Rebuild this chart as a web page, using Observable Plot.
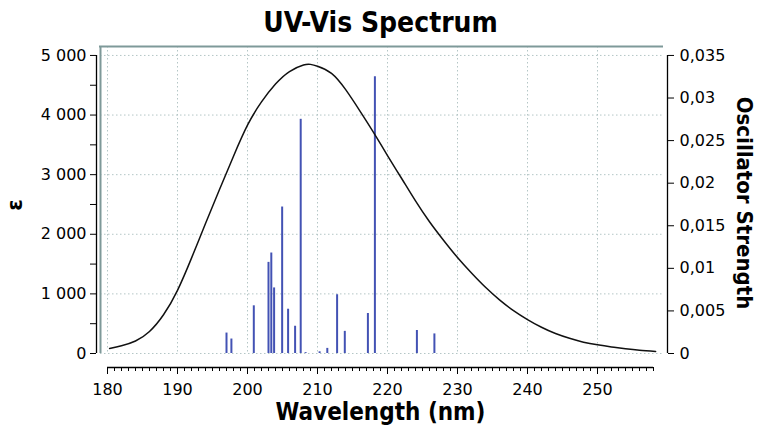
<!DOCTYPE html>
<html>
<head>
<meta charset="utf-8">
<script src="https://cdn.jsdelivr.net/npm/d3@7"></script>
<script src="https://cdn.jsdelivr.net/npm/@observablehq/plot@0.6"></script>
<style>
  html, body { margin: 0; padding: 0; background: #ffffff; }
  #chart svg { display: block; }
</style>
</head>
<body>
<div id="chart"></div>
<script>
// Broadened spectrum (epsilon)
const curveNm  = [180.3, 182, 184, 186, 188, 190, 192, 194, 196, 198, 200, 202, 204, 206, 208, 209, 210, 212, 214, 216, 218, 220, 222, 224, 226, 228, 230, 232, 234, 236, 238, 240, 242, 244, 246, 248, 250, 252, 254, 256, 258.3];
const curveEps = [85, 130, 210, 370, 650, 1060, 1600, 2180, 2750, 3310, 3830, 4220, 4520, 4730, 4840, 4850, 4820, 4700, 4430, 4080, 3710, 3320, 2940, 2560, 2210, 1900, 1610, 1350, 1110, 900, 720, 570, 440, 335, 255, 190, 145, 110, 80, 55, 35];

// Stick transitions: wavelength (nm) and oscillator strength
const stickNm = [197.0, 197.7, 200.9, 203.0, 203.4, 203.8, 204.95, 205.8, 206.8, 207.6, 208.3, 210.3, 211.4, 212.8, 213.9, 217.2, 218.2, 224.2, 226.7];
const stickF  = [0.0024, 0.0017, 0.0056, 0.0107, 0.0118, 0.0077, 0.0172, 0.0052, 0.0032, 0.0275, 0.0001, 0.0002, 0.0006, 0.0069, 0.0026, 0.0047, 0.0325, 0.0027, 0.0023];

// Axis ticks
const xTicks = [180, 190, 200, 210, 220, 230, 240, 250];
const xMinorTicks = d3.range(180, 259, 1);
const yTicks = [0, 1000, 2000, 3000, 4000, 5000];
const yMinorTicks = [500, 1500, 2500, 3500, 4500];
const fTicks = [0, 0.005, 0.01, 0.015, 0.02, 0.025, 0.03, 0.035];

// right axis maximum (0.035) aligns with left axis 5000
const K = 5000 / 0.035;

const curve = curveNm.map((x, i) => ({x, y: curveEps[i]}));
const sticks = stickNm.map((x, i) => ({x, f: stickF[i]}));

const fmtEps = d => d3.format(",")(d).replace(/,/g, " ");
const fmtF = v => String(Math.round(v / K * 10000) / 10000).replace(".", ",");

const frameGrey = "#7e9999";
const gridColor = "#b4c6c6";

const chart = Plot.plot({
  width: 757,
  height: 427,
  marginTop: 46,
  marginBottom: 74,
  marginLeft: 107,
  marginRight: 104,
  x: {domain: [180, 258]},
  y: {domain: [0, 5150]},
  style: {fontFamily: "DejaVu Sans", fontSize: "16px", color: "#000", background: "#fff"},
  marks: [
    // grid
    Plot.ruleX(xTicks, {stroke: gridColor, strokeDasharray: "1.5,2.5", strokeWidth: 1}),
    Plot.ruleY(yTicks, {stroke: gridColor, strokeDasharray: "1.5,2.5", strokeWidth: 1, insetLeft: -7, insetRight: -10}),
    // frame (top and left, grey)
    Plot.ruleY([5150], {stroke: frameGrey, strokeWidth: 2, insetLeft: -8, insetRight: -10}),
    Plot.ruleX([180], {dx: -7, stroke: frameGrey, strokeWidth: 2}),
    // left axis
    Plot.ruleX([180], {y1: 0, y2: 5000, dx: -11, stroke: "#000", strokeWidth: 1.3}),
    Plot.axisY(yTicks, {anchor: "left", dx: -11, tickSize: 6, tickPadding: 4, tickFormat: fmtEps, label: null, fontSize: 16}),
    Plot.axisY(yMinorTicks, {anchor: "left", dx: -11, tickSize: 6, tickFormat: () => "", label: null}),
    // right axis
    Plot.ruleX([258], {y1: 0, y2: 5000, dx: 14, stroke: "#000", strokeWidth: 1.3}),
    Plot.axisY(fTicks.map(f => f * K), {anchor: "right", dx: 14, tickSize: 6, tickPadding: 6, tickFormat: fmtF, label: null, fontSize: 16}),
    // bottom axis
    Plot.ruleY([0], {x1: 180, x2: 258, dy: 14, stroke: "#000", strokeWidth: 1.3}),
    Plot.axisX(xMinorTicks, {anchor: "bottom", dy: 14, tickSize: 4, tickFormat: () => "", label: null}),
    Plot.axisX(xTicks, {anchor: "bottom", dy: 14, tickSize: 7, tickPadding: 9, tickFormat: d => String(d), label: null, fontSize: 16}),
    // sticks
    Plot.ruleX(sticks, {x: "x", y1: 0, y2: d => d.f * K, stroke: "#4352b4", strokeWidth: 2}),
    // spectrum
    Plot.line(curve, {x: "x", y: "y", stroke: "#111", strokeWidth: 1.5, curve: "natural"}),
    // titles
    Plot.text(["UV-Vis Spectrum"], {text: d => d, frameAnchor: "top", lineAnchor: "middle", textAnchor: "middle", dy: -23, fontSize: 28, fontWeight: "bold", fontFamily: "DejaVu Sans Condensed"}),
    Plot.text(["Wavelength (nm)"], {text: d => d, frameAnchor: "bottom", lineAnchor: "middle", textAnchor: "middle", dy: 59, fontSize: 24, fontWeight: "bold", fontFamily: "DejaVu Sans Condensed"}),
    Plot.text(["ε"], {text: d => d, frameAnchor: "left", lineAnchor: "middle", textAnchor: "middle", dx: -92, dy: 5, rotate: -90, fontSize: 21, fontWeight: "bold"}),
    Plot.text(["Oscillator Strength"], {text: d => d, frameAnchor: "right", lineAnchor: "middle", textAnchor: "middle", dx: 91, dy: 3, rotate: 90, fontSize: 22, fontWeight: "bold", fontFamily: "DejaVu Sans Condensed"})
  ]
});

document.getElementById("chart").appendChild(chart);
</script>
</body>
</html>
